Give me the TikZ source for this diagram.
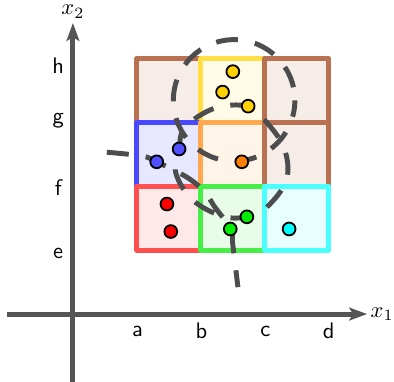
\documentclass[tikz,border=0pt]{standalone}
\usepackage{tikz}
\usetikzlibrary{arrows.meta}
\definecolor{axisgray}{RGB}{85,85,85}
\definecolor{curvegray}{RGB}{77,77,77}
\definecolor{cbrown}{RGB}{184,114,82}
\definecolor{cyellow}{RGB}{255,222,70}
\definecolor{cblue}{RGB}{72,72,255}
\definecolor{corange}{RGB}{255,168,80}
\definecolor{cred}{RGB}{255,80,80}
\definecolor{cgreen}{RGB}{72,238,72}
\definecolor{ccyan}{RGB}{75,255,255}
\definecolor{dyellow}{RGB}{255,208,0}
\definecolor{dblue}{RGB}{80,80,255}
\definecolor{dorange}{RGB}{255,128,0}
\definecolor{dred}{RGB}{255,0,0}
\definecolor{dgreen}{RGB}{0,238,0}
\definecolor{dcyan}{RGB}{0,255,255}

\begin{document}
\begin{tikzpicture}[
    axis/.style={line width=2.2pt, draw=axisgray, -{Stealth[length=2.8mm, width=2mm, inset=0.6mm]}},
    cell/.style={draw=#1, fill=#1!13, line width=2.2pt, line join=round},
    bound/.style={draw=curvegray, line width=2.2pt, dash pattern=on 9.8pt off 7.6pt},
    dot/.style={circle, draw=black, fill=#1, line width=0.8pt, inner sep=0pt, minimum size=0.2cm},
    tick/.style={font=\sffamily},
]
\useasboundingbox (-1.14,-1.05) rectangle (5.02,4.91);

% axes
\draw[axis] (-1.03,0) -- (4.6,0) node[right, inner sep=0.5pt] (xone) {$x_1$};
\draw[axis] (0,-1.06) -- (0,4.55) node[above, inner sep=1pt] (xtwo) {$x_2$};

\node[tick] (la) at (1.01,-0.27) {a};
\node[tick] (lb) at (2.01,-0.27) {b};
\node[tick] (lc) at (3.01,-0.27) {c};
\node[tick] (ld) at (4.0,-0.27) {d};
\node[tick] (le) at (-0.23,0.95) {e};
\node[tick] (lf) at (-0.23,1.97) {f};
\node[tick] (lg) at (-0.23,3.03) {g};
\node[tick] (lh) at (-0.23,3.89) {h};

% grid cells
\draw[cell=cbrown] (1,3) rectangle (2,4);
\draw[cell=cyellow] (2,3) rectangle (3,4);
\draw[cell=cbrown] (3,3) rectangle (4,4);
\draw[cell=cblue] (1,2) rectangle (2,3);
\draw[cell=corange] (2,2) rectangle (3,3);
\draw[cell=cbrown] (3,2) rectangle (4,3);
\draw[cell=cred] (1,1) rectangle (2,2);
\draw[cell=cgreen] (2,1) rectangle (3,2);
\draw[cell=ccyan] (3,1) rectangle (4,2);

% dashed boundaries
\draw[bound, dash phase=11.5pt] (2.52,3.34) circle (0.95);
\draw[bound] plot[smooth cycle, tension=0.6] coordinates {(2.73,3.25) (3.0,3.03) (3.3,2.6) (3.34,2.1) (3.03,1.67) (2.72,1.52) (2.34,1.53) (1.875,1.78) (1.61,2.2) (1.66,2.58) (1.75,2.92) (2.22,3.22)};
\draw[bound] plot[smooth, tension=0.6] coordinates {(0.53,2.53) (1.08,2.47) (1.31,2.38) (1.78,2.14) (2.06,1.91) (2.22,1.67) (2.47,1.33) (2.5,1.08) (2.58,0.42)};

% points
\node[dot=dyellow] (y1) at (2.50,3.79) {};
\node[dot=dyellow] (y2) at (2.34,3.47) {};
\node[dot=dyellow] (y3) at (2.74,3.25) {};
\node[dot=dblue] (b1) at (1.66,2.58) {};
\node[dot=dblue] (b2) at (1.31,2.38) {};
\node[dot=dorange] (o1) at (2.64,2.38) {};
\node[dot=dred] (r1) at (1.47,1.72) {};
\node[dot=dred] (r2) at (1.53,1.29) {};
\node[dot=dgreen] (g1) at (2.72,1.52) {};
\node[dot=dgreen] (g2) at (2.46,1.33) {};
\node[dot=dcyan] (c1) at (3.38,1.33) {};
\end{tikzpicture}
\end{document}
